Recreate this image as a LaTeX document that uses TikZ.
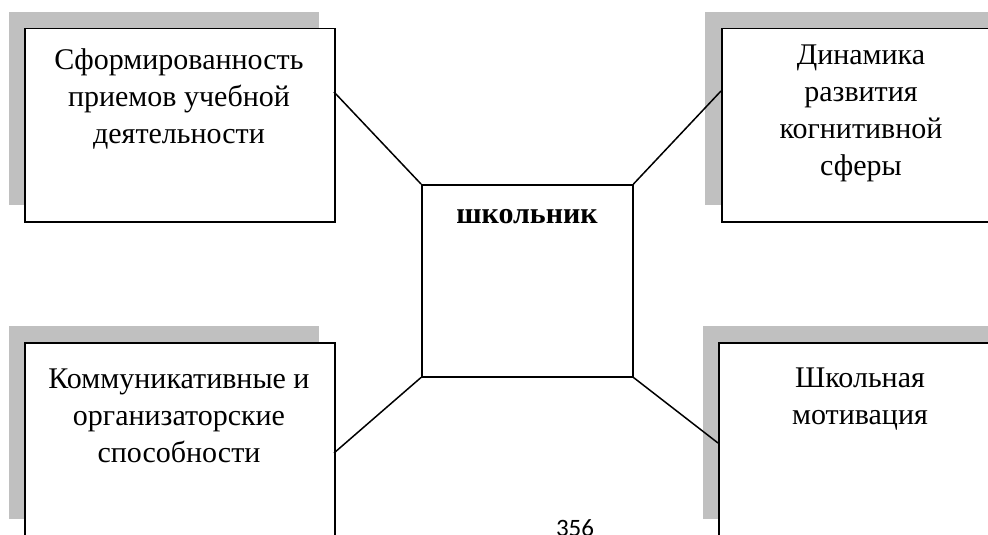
\documentclass[tikz,border=0pt]{standalone}
\usepackage{fontspec}
\setmainfont{Liberation Serif}
\newfontfamily\pagenumfont{Carlito}
\definecolor{shadegrey}{HTML}{C0C0C0}
\begin{document}
\begin{tikzpicture}[x=1pt,y=-1pt,
  box/.style={draw=black,line width=1.5pt,fill=white,rectangle,minimum width=310pt,minimum height=193pt,inner sep=0pt,anchor=north west},
  shadowbox/.style={fill=shadegrey,draw=none,rectangle,minimum width=310pt,minimum height=193pt,inner sep=0pt,anchor=north west},
  lbl/.style={align=center,font=\fontsize{30}{36.7}\selectfont,anchor=base,inner sep=0pt},
  link/.style={line width=1.5pt}]
\clip (0,0) rectangle (988,535);
\fill[white] (0,0) rectangle (988,535);
% shadows
\node[shadowbox] (tls) at (9,12) {};
\node[shadowbox] (trs) at (705,12) {};
\node[shadowbox] (bls) at (9,326) {};
\node[shadowbox] (brs) at (703,326) {};
% boxes
\node[box] (tl) at (24,28) {};
\node[box] (tr) at (721,28) {};
\node[box] (bl) at (24,342) {};
\node[box] (br) at (718,342) {};
\node[box,minimum width=211pt,minimum height=192pt] (ctr) at (421,184) {};
% texts (anchor base = baseline of the last line)
\node[lbl] (tlt) at (179,143) {Сформированность\\приемов учебной\\деятельности};
\node[lbl] (trt) at (861,175) {Динамика\\развития\\когнитивной\\сферы};
\node[lbl] (blt) at (179,462) {Коммуникативные и\\организаторские\\способности};
\node[lbl] (brt) at (860,424) {Школьная\\мотивация};
\node[lbl,font=\fontsize{30}{36.7}\selectfont\bfseries] (ctrt) at (527,223) {школьник};
\node[anchor=base,inner sep=0pt,font=\pagenumfont\fontsize{25}{30}\selectfont] (pg) at (575,536) {356};
% connectors
\coordinate (tlp) at (334,92);
\coordinate (trp) at (721,91);
\coordinate (blp) at (334,453);
\coordinate (brp) at (718,443);
\draw[link] (tlp) -- (ctr.north west);
\draw[link] (trp) -- (ctr.north east);
\draw[link] (blp) -- (ctr.south west);
\draw[link] (brp) -- (ctr.south east);
\end{tikzpicture}
\end{document}
